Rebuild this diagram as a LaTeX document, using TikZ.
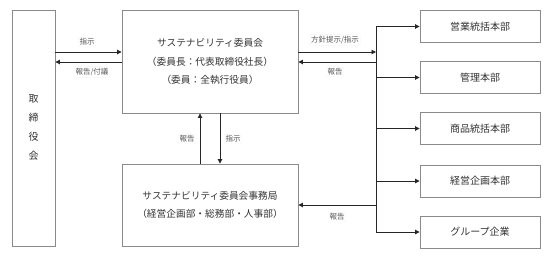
\documentclass[tikz,border=0pt]{standalone}
\usepackage{fontspec}
\setmainfont{Noto Sans CJK JP}
\usetikzlibrary{arrows.meta}
\definecolor{boxline}{HTML}{8A8A8A}
\definecolor{txt}{HTML}{333333}
\definecolor{arr}{HTML}{262626}
\definecolor{lbl}{HTML}{555555}
\tikzset{
  box/.style={draw=boxline, line width=0.9pt, fill=white, text=txt, font=\fontsize{9.7pt}{18.5pt}\selectfont, align=center, inner sep=0pt},
  rbox/.style={box, minimum width=120pt, minimum height=32pt, font=\fontsize{10pt}{12pt}\selectfont},
  conn/.style={draw=arr, line width=0.9pt},
  arrow/.style={conn, -{Triangle[length=4.5pt,width=4.5pt]}},
  lab/.style={fill=white, draw=gray!8, rounded corners=2pt, text=lbl, font=\fontsize{7.5pt}{8pt}\selectfont, inner sep=1.5pt}
}
\begin{document}
\begin{tikzpicture}[x=1pt,y=-1pt]
\useasboundingbox (0,0) rectangle (553,258);
% boxes
\node[box, minimum width=43pt, minimum height=236pt, font=\fontsize{10pt}{19pt}\selectfont] (board) at (33.5,128) {取\\締\\役\\会};
\node[box, minimum width=176pt, minimum height=103pt] (comm) at (210,61.5) {サステナビリティ委員会\\（委員長：代表取締役社長）\\（委員：全執行役員）};
\node[box, minimum width=176pt, minimum height=82pt] (sec) at (210,205) {サステナビリティ委員会事務局\\（経営企画部・総務部・人事部）};
\node[rbox] (r1) at (480,26.5) {営業統括本部};
\node[rbox] (r2) at (480,77.5) {管理本部};
\node[rbox] (r3) at (480,128.5) {商品統括本部};
\node[rbox] (r4) at (480,181) {経営企画本部};
\node[rbox] (r5) at (480,232) {グループ企業};
% bus coordinates
\coordinate (btop) at (376,26.5);
\coordinate (bbot) at (376,232);
\coordinate (b52) at (376,52);
\coordinate (b62) at (376,62);
\coordinate (bsec) at (376,205);
% board <-> committee
\draw[arrow] (board.east |- 0,52) -- (comm.west |- 0,52);
\draw[arrow] (comm.west |- 0,62) -- (board.east |- 0,62);
% committee <-> bus
\draw[arrow] (comm.east |- 0,52) -- (b52);
\draw[arrow] (b62) -- (comm.east |- 0,62);
\draw[conn] (btop) -- (bbot);
\draw[arrow] (btop) -- (r1.west);
\draw[arrow] (btop |- r2.west) -- (r2.west);
\draw[arrow] (btop |- r3.west) -- (r3.west);
\draw[arrow] (btop |- r4.west) -- (r4.west);
\draw[arrow] (bbot) -- (r5.west);
\draw[arrow] (bsec) -- (sec.east);
% committee <-> secretariat
\draw[arrow] (sec.north -| 200,0) -- (comm.south -| 200,0);
\draw[arrow] (comm.south -| 220,0) -- (sec.north -| 220,0);
% labels
\node[lab] (l1) at (87,42) {指示};
\node[lab] (l2) at (92,72) {報告/付議};
\node[lab] (l3) at (335,40) {方針提示/指示};
\node[lab] (l4) at (335,72) {報告};
\node[lab] (l5) at (187,139) {報告};
\node[lab] (l6) at (233,139) {指示};
\node[lab] (l7) at (337,217) {報告};
\end{tikzpicture}
\end{document}
